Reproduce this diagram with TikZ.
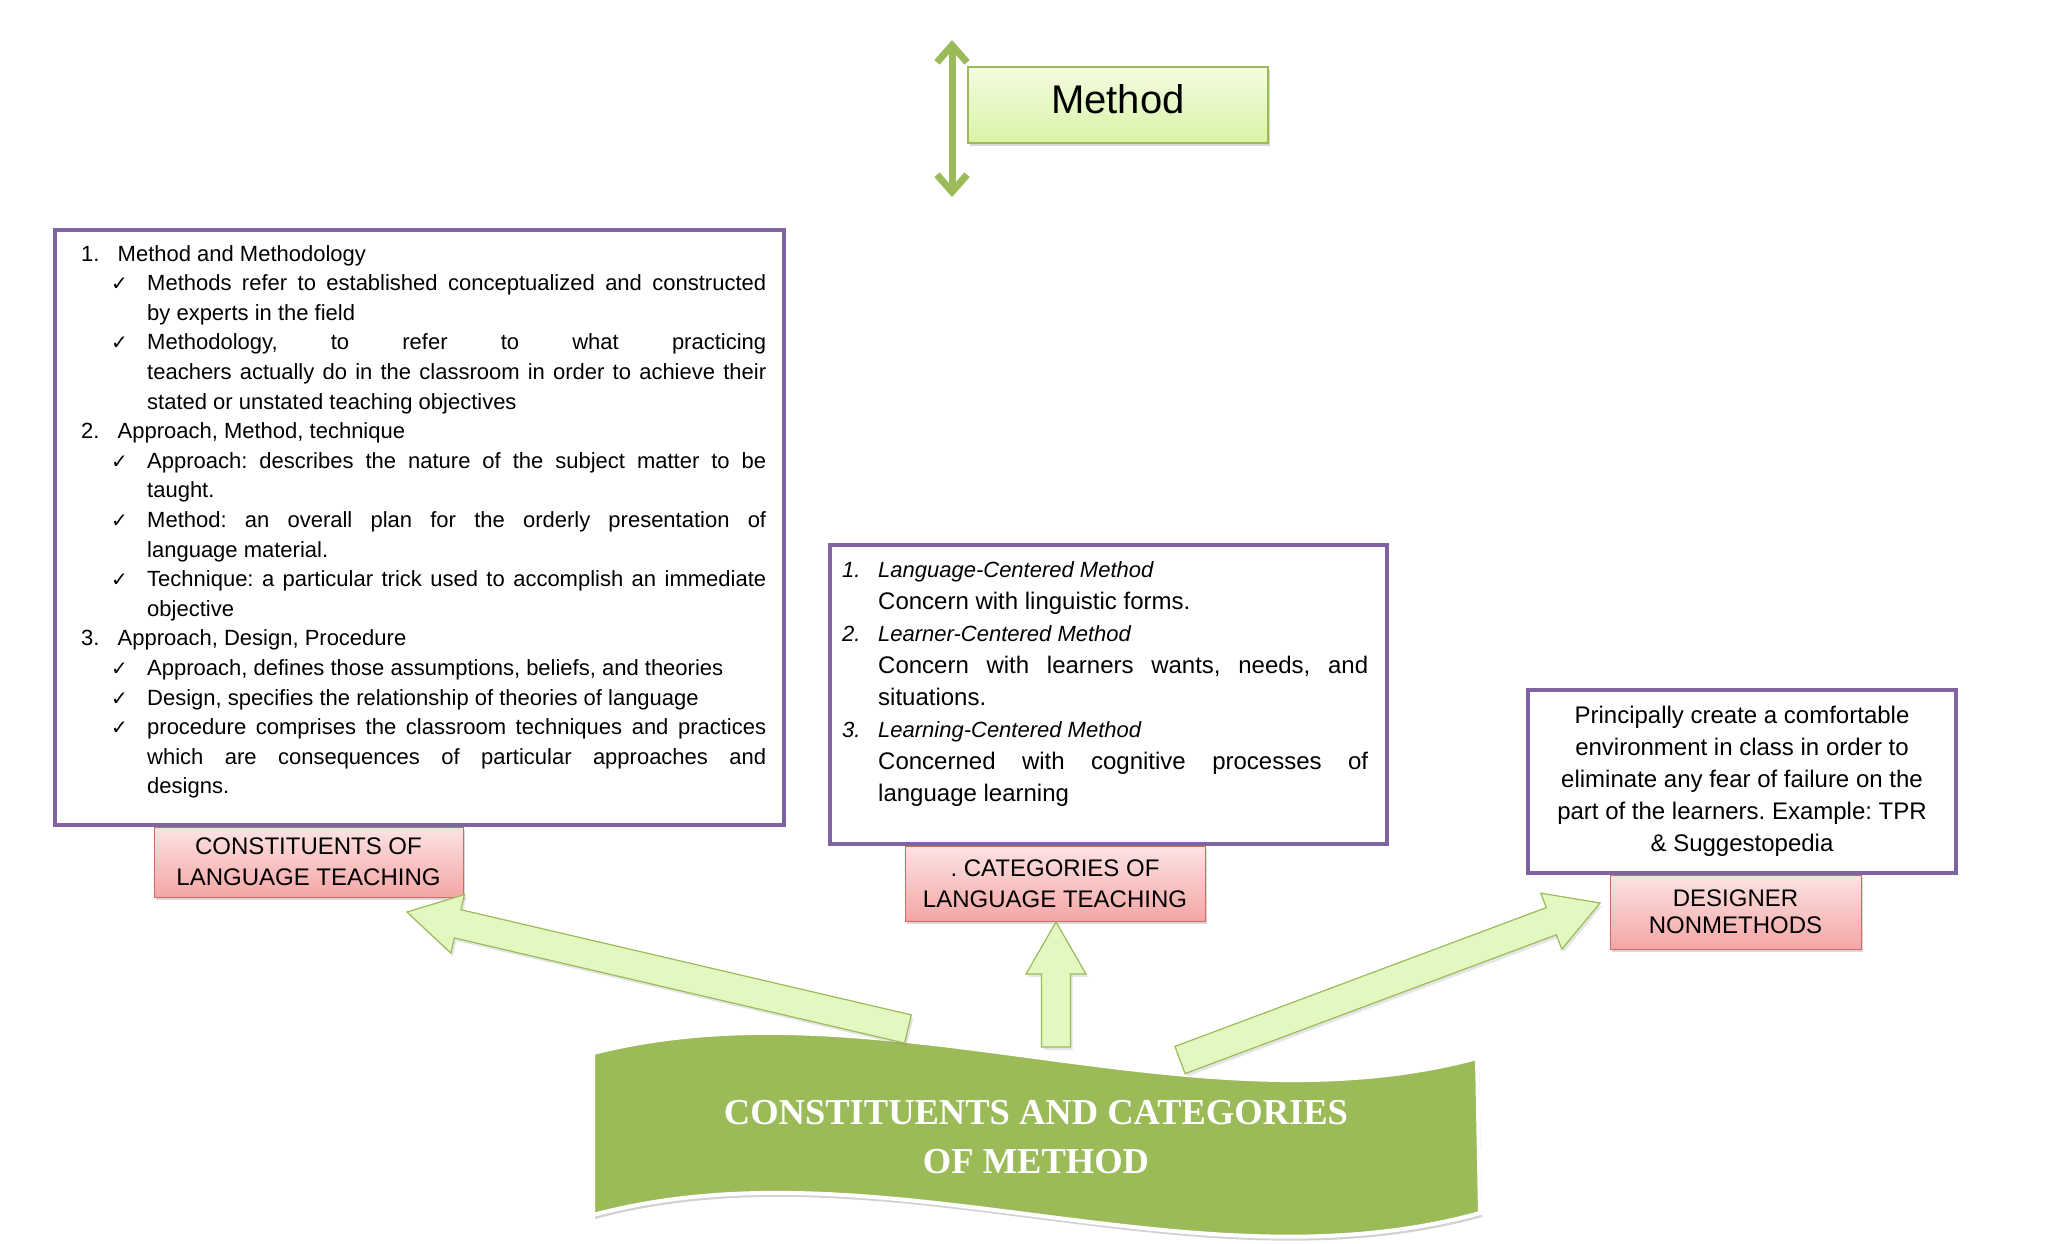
\documentclass[tikz,border=0pt]{standalone}
\usepackage{fontspec}
\setmainfont{Liberation Sans}
\newfontfamily\titlefont{Liberation Serif}
\newfontfamily\symfont{DejaVu Sans}
\usepackage{xcolor}
\usetikzlibrary{
arrows.meta,
positioning,
calc,
shadows
}

\definecolor{purpleline}{HTML}{8064A2}
\definecolor{greendark}{HTML}{9BBB59}
\definecolor{greenlight}{HTML}{E3F8C0}
\definecolor{methtop}{HTML}{F4FCE2}
\definecolor{methbot}{HTML}{D8F3A6}
\definecolor{pinktop}{HTML}{FDE3E3}
\definecolor{pinkbot}{HTML}{F4A6A6}
\definecolor{pinkline}{HTML}{D06A67}

\newcommand{\ck}{\makebox[36pt][l]{\symfont\fontsize{20}{20}\selectfont ✓}}
\newcommand{\jl}[2][619pt]{\makebox[#1][s]{#2}}
\newcommand{\nr}[1]{\makebox[36.5pt][l]{#1}}

% block arrow from #1 (tail) to #2 (tip)
\newcommand{\blockarrow}[2]{%
\coordinate (hb) at ($(#2)!52pt!(#1)$);
\draw[blockarr] ($(#1)!14.5pt!90:(#2)$) -- ($(hb)!14.5pt!90:(#2)$)
  -- ($(hb)!30pt!90:(#2)$) -- (#2) -- ($(hb)!30pt!-90:(#2)$)
  -- ($(hb)!14.5pt!-90:(#2)$) -- ($(#1)!14.5pt!-90:(#2)$) -- cycle;
}

\frenchspacing

\begin{document}
\begin{tikzpicture}[
x=1pt,y=-1pt,
textbox/.style={
draw=purpleline,
line width=3.5pt,
fill=white,
inner sep=0pt,
outer sep=0pt,
anchor=north west
},
labelbox/.style={
draw=pinkline,
line width=1pt,
top color=pinktop,
bottom color=pinkbot,
align=center,
inner sep=0pt,
outer sep=0pt,
font=\fontsize{24}{31}\selectfont,
drop shadow={opacity=0.3,shadow xshift=2pt,shadow yshift=-3pt}
},
methodbox/.style={
draw=greendark,
line width=1.2pt,
top color=methtop,
bottom color=methbot,
minimum width=300pt,
minimum height=76pt,
text height=29pt,
text depth=12pt,
font=\fontsize{40}{48}\selectfont,
drop shadow={opacity=0.3,shadow xshift=2pt,shadow yshift=-3pt}
},
blockarr/.style={
draw=greendark,
line width=1.2pt,
fill=greenlight,
drop shadow={opacity=0.2,shadow xshift=2pt,shadow yshift=-3pt}
},
methodarrow/.style={
draw=greendark,
line width=7pt,
{Straight Barb[length=17pt,width=30pt]}-{Straight Barb[length=17pt,width=30pt]}
}
]

\useasboundingbox[fill=white] (0,0) rectangle (2048,1243);

% top
\node[methodbox] (method) at (1118,105) {Method};
\coordinate (mtop) at (952,40);
\coordinate (mbot) at (952,197);
\draw[methodarrow] (mtop) -- (mbot);

% three boxes
\node[textbox,minimum width=729pt,minimum height=595pt] (lbox) at (55,230) {};
\node[textbox,minimum width=557pt,minimum height=299pt] (mbox) at (830,545) {};
\node[textbox,anchor=center,minimum width=428pt,minimum height=183pt,
align=center,font=\fontsize{24}{32}\selectfont] (rbox) at (1742,781.5) {
Principally create a comfortable\\
environment in class in order to\\
eliminate any fear of failure on the\\
part of the learners. Example: TPR\\
\& Suggestopedia
};

\node[below right=15pt and 26pt of lbox.north west,inner sep=0pt,align=left,
font=\fontsize{22}{29.6}\selectfont] (ltext) {
\nr{1.}Method and Methodology\\
\hspace*{30pt}\ck\jl{Methods refer to established conceptualized and constructed}\\
\hspace*{66pt}by experts in the field\\
\hspace*{30pt}\ck\jl{Methodology, to refer to what practicing}\\
\hspace*{66pt}\jl{teachers actually do in the classroom in order to achieve their}\\
\hspace*{66pt}stated or unstated teaching objectives\\
\nr{2.}Approach, Method, technique\\
\hspace*{30pt}\ck\jl{Approach: describes the nature of the subject matter to be}\\
\hspace*{66pt}taught.\\
\hspace*{30pt}\ck\jl{Method: an overall plan for the orderly presentation of}\\
\hspace*{66pt}language material.\\
\hspace*{30pt}\ck\jl{Technique: a particular trick used to accomplish an immediate}\\
\hspace*{66pt}objective\\
\nr{3.}Approach, Design, Procedure\\
\hspace*{30pt}\ck Approach, defines those assumptions, beliefs, and theories\\
\hspace*{30pt}\ck Design, specifies the relationship of theories of language\\
\hspace*{30pt}\ck\jl{procedure comprises the classroom techniques and practices}\\
\hspace*{66pt}\jl{which are consequences of particular approaches and}\\
\hspace*{66pt}designs.
};

\node[below right=16pt and 12pt of mbox.north west,inner sep=0pt,align=left,
font=\fontsize{24}{32}\selectfont] (mtext) {
{\itshape\fontsize{22}{32}\selectfont\makebox[36pt][l]{1.}Language-Centered Method}\\
\hspace*{36pt}Concern with linguistic forms.\\
{\itshape\fontsize{22}{32}\selectfont\makebox[36pt][l]{2.}Learner-Centered Method}\\
\hspace*{36pt}\jl[490pt]{Concern with learners wants, needs, and}\\
\hspace*{36pt}situations.\\
{\itshape\fontsize{22}{32}\selectfont\makebox[36pt][l]{3.}Learning-Centered Method}\\
\hspace*{36pt}\jl[490pt]{Concerned with cognitive processes of}\\
\hspace*{36pt}language learning
};

% labels under the boxes
\node[labelbox,minimum width=309pt,minimum height=70pt,
below right=2pt and 99pt of lbox.south west] (lab1) {
CONSTITUENTS OF\\
LANGUAGE TEACHING
};
\node[labelbox,minimum width=300pt,minimum height=75pt,
below right=2pt and 75pt of mbox.south west] (lab2) {
. CATEGORIES OF\\
LANGUAGE TEACHING
};
\node[labelbox,minimum width=251pt,minimum height=74pt,
font=\fontsize{24}{27}\selectfont,
below right=2pt and 82pt of rbox.south west] (lab3) {
DESIGNER\\
NONMETHODS
};

% banner
\path[fill=greendark,draw=white,line width=4pt,
drop shadow={opacity=0.35,shadow xshift=2pt,shadow yshift=-4pt}]
(593,1053) .. controls (880,980) and (1190,1135) .. (1477,1058)
-- (1480,1213) .. controls (1190,1293) and (880,1138) .. (593,1215) -- cycle;
\node[text=white,align=center,font=\titlefont\bfseries\fontsize{36.5}{49}\selectfont]
(title) at (1036,1137) {
CONSTITUENTS AND CATEGORIES\\
OF METHOD
};

% arrows
\coordinate (srcL) at (908,1029);
\coordinate (dstL) at (407,912);
\coordinate (srcC) at (1056,1047);
\coordinate (dstC) at (1056,922);
\coordinate (srcR) at (1180,1060);
\coordinate (dstR) at (1600,903);
\blockarrow{srcL}{dstL}
\blockarrow{srcC}{dstC}
\blockarrow{srcR}{dstR}

\end{tikzpicture}
\end{document}
